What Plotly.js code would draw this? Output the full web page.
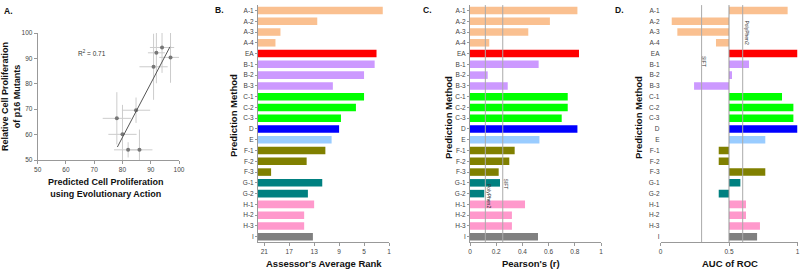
<!DOCTYPE html>
<html><head><meta charset="utf-8">
<script src="https://cdn.plot.ly/plotly-3.0.1.min.js"></script>
<style>html,body{margin:0;padding:0;background:#fff}#chart{width:800px;height:269px}</style>
</head><body><div id="chart"></div>
<script>
// ---- Panel A data ----
const predEA   = [78, 80, 82, 86, 84.8, 91, 92, 94, 97];
const relProl  = [66.4, 60.1, 54, 54, 69.6, 86.7, 92.2, 94.3, 90.4];
const predErr  = [5, 5, 5, 4.6, 5, 5, 3, 4.3, 4];
const prolErr  = [10.3, 11.6, 3, 8, 5, 13, 12, 10, 10];
const r2Label  = 'R<sup>2</sup> = 0.71';
const tickA    = [50, 60, 70, 80, 90, 100];

// ---- Panels B-D data ----
const methods = ['A-1','A-2','A-3','A-4','EA','B-1','B-2','B-3','C-1','C-2','C-3','D','E','F-1','F-2','F-3','G-1','G-2','H-1','H-2','H-3','I'];
const avgRank = [2.0,12.5,18.4,19.2,3.0,3.3,5.0,10.0,5.0,6.3,8.7,9.0,10.2,11.2,14.2,19.9,11.7,14.0,13.0,14.6,14.6,13.2];
const pearson = [0.82,0.61,0.445,0.147,0.832,0.524,0.135,0.288,0.746,0.746,0.70,0.82,0.53,0.341,0.30,0.219,0.229,0.109,0.42,0.32,0.32,0.519];
const aucRoc  = [0.928,0.082,0.123,0.405,1.0,0.646,0.522,0.245,0.887,0.97,0.97,1.0,0.765,0.425,0.425,0.765,0.583,0.425,0.624,0.624,0.726,0.705];
const rankTicks = [21, 17, 13, 9, 5, 1];
const refC = {PolyPhen2: 0.117, SIFT: 0.25};
const refD = {SIFT: 0.3, PolyPhen2: 0.6};

// ---- styles ----
const groupColor = {A:'#FAC090', EA:'#FF0000', B:'#CC99FF', C:'#00FF00', D:'#0000FF', E:'#99CCFF', F:'#808000', G:'#008080', H:'#FF99CC', I:'#808080'};
const colors = methods.map(m => groupColor[m.split('-')[0]]);
const FONT = 'Liberation Sans, Arial, sans-serif';
const W = 800, H = 269;
const dx = (a,b) => [a/W, b/W];
const dy = (t,b) => [(H-b)/H, (H-t)/H];
const px = x => x/W, py = y => 1 - y/H;

// regression line computed from data
const n = predEA.length;
const mx = predEA.reduce((a,b)=>a+b,0)/n, my = relProl.reduce((a,b)=>a+b,0)/n;
let sxy=0, sxx=0;
for (let i=0;i<n;i++){ sxy += (predEA[i]-mx)*(relProl[i]-my); sxx += (predEA[i]-mx)**2; }
const slope = sxy/sxx, icpt = my - slope*mx;
const fx = [Math.min(...predEA)+0.2, Math.max(...predEA)-0.2];
const fy = fx.map(x => icpt + slope*x);

const traces = [
  {type:'scatter', mode:'markers', x:predEA, y:relProl, xaxis:'x', yaxis:'y',
   marker:{size:4, color:'#777'},
   error_x:{type:'data', array:predErr, color:'#ccc', thickness:1, width:0},
   error_y:{type:'data', array:prolErr, color:'#ccc', thickness:1, width:0}},
  {type:'scatter', mode:'lines', x:fx, y:fy, xaxis:'x', yaxis:'y', line:{color:'#555', width:1}},
  {type:'bar', orientation:'h', y:methods, x:avgRank.map(v => v-22), base:22, xaxis:'x2', yaxis:'y2', marker:{color:colors}},
  {type:'bar', orientation:'h', y:methods, x:pearson, xaxis:'x3', yaxis:'y3', marker:{color:colors}},
  {type:'bar', orientation:'h', y:methods, x:aucRoc.map(v => v-0.5), base:0.5, xaxis:'x4', yaxis:'y4', marker:{color:colors}}
];

const tickFont = {family:FONT, size:6.5, color:'#444'};
const axBase = {showgrid:false, zeroline:false, showline:true, linecolor:'#999', linewidth:1,
  ticks:'outside', ticklen:3, tickcolor:'#999', tickfont:tickFont, fixedrange:true};
const catAx = (x, anchor, showline) => Object.assign({}, axBase, {domain:dy(5.1,242.1), anchor:anchor,
  type:'category', autorange:'reversed', showline:showline, ticks: showline?'outside':'', ticklen:2});

const layout = {
  width:W, height:H, margin:{l:0,r:0,t:0,b:0}, showlegend:false,
  paper_bgcolor:'#fff', plot_bgcolor:'rgba(0,0,0,0)', bargap:0.3,
  font:{family:FONT},
  xaxis: Object.assign({}, axBase, {domain:dx(37.7,179), range:[50,100], tickvals:tickA, anchor:'y'}),
  yaxis: Object.assign({}, axBase, {domain:dy(33,160), range:[50,100], tickvals:tickA, anchor:'x'}),
  xaxis2: Object.assign({}, axBase, {domain:dx(258,389), range:[22,1], tickvals:rankTicks, anchor:'y2'}),
  yaxis2: catAx('x2','x2',true),
  xaxis3: Object.assign({}, axBase, {domain:dx(470,601), range:[0,1], dtick:0.2, tickformat:'~g', anchor:'y3'}),
  yaxis3: catAx('x3','x3',true),
  xaxis4: Object.assign({}, axBase, {domain:dx(660.5,797.5), range:[0,1], tickvals:[0,0.5,1], ticktext:['0','0.5','1'], anchor:'y4'}),
  yaxis4: catAx('x4','x4',false),
  shapes: [], annotations: []
};

// reference lines
const refLine = (xr, yr, v, col) => ({type:'line', xref:xr, yref:yr+' domain', x0:v, x1:v, y0:0, y1:1, line:{color:col, width:1}, layer:'above'});
Object.values(refC).forEach(v => layout.shapes.push(refLine('x3','y3',v,'#aaa')));
Object.values(refD).forEach(v => layout.shapes.push(refLine('x4','y4',v,'#aaa')));
layout.shapes.push(refLine('x4','y4',0.5,'#999'));

const ann = (text, x, y, size, bold, extra) => Object.assign({text: bold?'<b>'+text+'</b>':text, xref:'paper', yref:'paper',
  x:px(x), y:py(y), showarrow:false, font:{family:FONT, size:size, color:'#111'}, xanchor:'center', yanchor:'middle'}, extra||{});
const A = layout.annotations;
A.push(ann('A.', 2, 11, 8.5, true, {xanchor:'left'}));
A.push(ann('B.', 213, 10, 8.5, true, {xanchor:'left'}));
A.push(ann('C.', 421, 10, 8.5, true, {xanchor:'left'}));
A.push(ann('D.', 613, 10, 8.5, true, {xanchor:'left'}));
A.push(ann('Relative Cell Proliferation<br>of p16 Mutants', 10.5, 96.5, 9, true, {textangle:-90}));
A.push(ann('Predicted Cell Proliferation<br>using Evolutionary Action', 106, 187.5, 9, true));
A.push(ann(r2Label, 91.5, 52.5, 6.5, false, {font:{family:FONT, size:6.5, color:'#333'}}));
A.push(ann('Prediction Method', 233, 116, 9.5, true, {textangle:-90}));
A.push(ann('Prediction Method', 448, 118, 9.5, true, {textangle:-90}));
A.push(ann('Prediction Method', 638, 118, 9.5, true, {textangle:-90}));
A.push(ann("Assessor's Average Rank", 323.5, 263, 9.5, true));
A.push(ann("Pearson's (r)", 531, 263, 9.5, true));
A.push(ann('AUC of ROC', 730, 263, 9.5, true));
const small = {family:FONT, size:5, color:'#333'};
A.push(ann('SIFT', 505.5, 184, 5, false, {textangle:90, font:small}));
A.push(ann('PolyPhen2', 489.5, 196.5, 5, false, {textangle:90, font:small}));
A.push(ann('SIFT', 704, 61, 5, false, {textangle:90, font:small}));
A.push(ann('PolyPhen2', 746.5, 32, 5, false, {textangle:90, font:small}));

Plotly.newPlot('chart', traces, layout, {staticPlot:true, displayModeBar:false});
</script></body></html>
